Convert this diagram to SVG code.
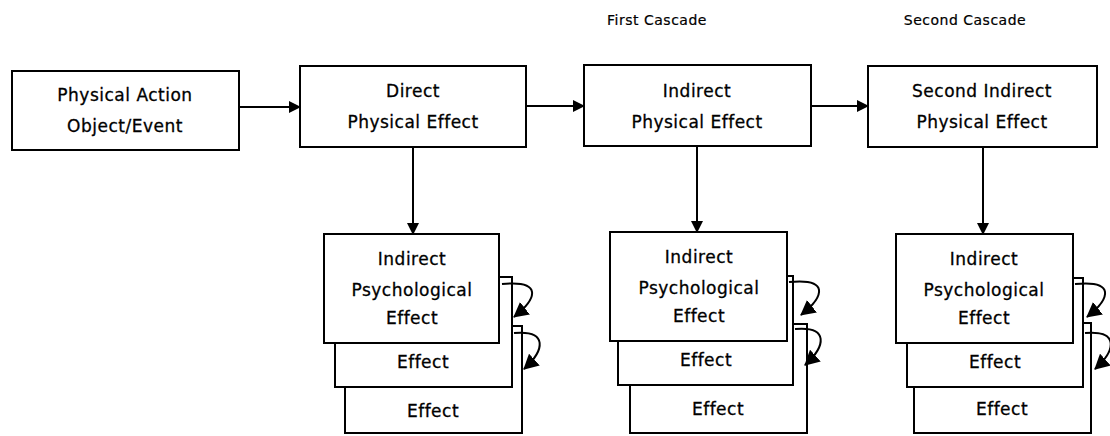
<svg xmlns="http://www.w3.org/2000/svg" width="1110" height="436" viewBox="0 0 1110 436">
<style>
  .box { fill: #fff; stroke: #000; stroke-width: 2; }
  .t { font-family: "DejaVu Sans", "Liberation Sans", sans-serif; font-size: 17px; letter-spacing: 0.5px; fill: #000; stroke: #000; stroke-width: 0.3; text-anchor: middle; }
  .h { font-family: "DejaVu Sans", "Liberation Sans", sans-serif; font-size: 14px; letter-spacing: 0.5px; fill: #000; stroke: #000; stroke-width: 0.2; text-anchor: middle; }
  .c { fill: none; stroke: #000; stroke-width: 2; marker-end: url(#ah); }
  .cv { fill: none; stroke: #000; stroke-width: 2; marker-end: url(#ah2); }
</style>
<defs>
  <marker id="ah" markerUnits="userSpaceOnUse" markerWidth="12" markerHeight="12" refX="11" refY="6" orient="auto">
    <path d="M0,0 L12,6 L0,12 Z" fill="#000"/>
  </marker>
  <marker id="ah2" markerUnits="userSpaceOnUse" markerWidth="16" markerHeight="16" refX="14" refY="8" orient="auto">
    <path d="M0,0 L15,8 L0,16 Z" fill="#000"/>
  </marker>
</defs>

<text class="h" x="657" y="25">First Cascade</text>
<text class="h" x="965" y="25">Second Cascade</text>

<g id="n1">
  <rect class="box" x="12" y="71" width="227" height="79"/>
  <text class="t" x="125" y="101">Physical Action</text>
  <text class="t" x="125" y="132">Object/Event</text>
</g>
<g id="n2">
  <rect class="box" x="300" y="66" width="226" height="81"/>
  <text class="t" x="413" y="97">Direct</text>
  <text class="t" x="413" y="128">Physical Effect</text>
</g>
<g id="n3">
  <rect class="box" x="584" y="65" width="227" height="81"/>
  <text class="t" x="697" y="97">Indirect</text>
  <text class="t" x="697" y="128">Physical Effect</text>
</g>
<g id="n4">
  <rect class="box" x="868" y="66" width="229" height="81"/>
  <text class="t" x="982" y="97">Second Indirect</text>
  <text class="t" x="982" y="128">Physical Effect</text>
</g>

<g id="psychA">
  <rect class="box" x="345" y="326" width="177" height="107"/>
  <text class="t" x="433" y="417">Effect</text>
  <rect class="box" x="335" y="277" width="177" height="110"/>
  <text class="t" x="423" y="368">Effect</text>
  <rect class="box" x="324" y="234" width="175" height="109"/>
  <text class="t" x="412" y="265">Indirect</text>
  <text class="t" x="412" y="296">Psychological</text>
  <text class="t" x="412" y="324">Effect</text>
</g>
<g id="psychB">
  <rect class="box" x="630" y="324" width="177" height="109"/>
  <text class="t" x="718" y="415">Effect</text>
  <rect class="box" x="618" y="276" width="175" height="109"/>
  <text class="t" x="706" y="366">Effect</text>
  <rect class="box" x="610" y="232" width="177" height="109"/>
  <text class="t" x="699" y="263">Indirect</text>
  <text class="t" x="699" y="294">Psychological</text>
  <text class="t" x="699" y="322">Effect</text>
</g>
<g id="psychC">
  <rect class="box" x="914" y="323" width="177" height="110"/>
  <text class="t" x="1002" y="415">Effect</text>
  <rect class="box" x="907" y="278" width="176" height="109"/>
  <text class="t" x="995" y="368">Effect</text>
  <rect class="box" x="896" y="234" width="177" height="109"/>
  <text class="t" x="984" y="265">Indirect</text>
  <text class="t" x="984" y="296">Psychological</text>
  <text class="t" x="984" y="324">Effect</text>
</g>

<g id="connectors">
  <line class="c" x1="239" y1="107" x2="300" y2="107"/>
  <line class="c" x1="526" y1="106" x2="584" y2="106"/>
  <line class="c" x1="811" y1="106" x2="868" y2="106"/>
  <line class="c" x1="413" y1="147" x2="413" y2="234"/>
  <line class="c" x1="697" y1="146" x2="697" y2="232"/>
  <line class="c" x1="983" y1="147" x2="983" y2="234"/>
  <path class="cv" d="M502 284 C542 280, 538 298, 514 317"/>
  <path class="cv" d="M514 333 C548 330, 545 350, 524 369"/>
  <path class="cv" d="M789 282 C829 278, 825 296, 801 315"/>
  <path class="cv" d="M795 329 C829 326, 826 346, 805 365"/>
  <path class="cv" d="M1075 284 C1115 280, 1111 298, 1087 317"/>
  <path class="cv" d="M1085 333 C1119 330, 1116 350, 1095 369"/>
</g>
</svg>
